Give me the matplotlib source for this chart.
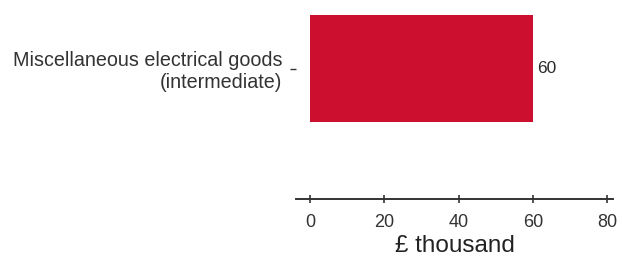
import matplotlib
matplotlib.use("Agg")
import matplotlib.pyplot as plt

categories = ["Miscellaneous electrical goods\n(intermediate)"]
values = [60]
xticks = [0, 20, 40, 60, 80]

plt.rcParams["font.family"] = ["Liberation Sans", "DejaVu Sans"]

fig = plt.figure(figsize=(6.22, 2.60), dpi=100)
# axes placed in figure fraction (spine at y=199 px from top)
ax = fig.add_axes([296 / 622, 1 - 199 / 260, (613 - 296) / 622, 194 / 260])

bars = ax.barh(range(len(categories)), values, height=0.8, color="#cc0f2e")
for i, v in enumerate(values):
    ax.text(v + 1.2, i, str(v), va="center", ha="left", fontsize=12.5, color="#2a2a2a")

ax.set_xlim(-3.77, 81.6)
# bar centre at 68.5 px, half height 53.5 px -> 133.75 px per unit
ax.set_ylim(-(199 - 68.5) / 133.75, (68.5 - 5) / 133.75)
ax.set_xticks(xticks)
ax.set_yticks(range(len(categories)))
ax.set_yticklabels(categories, fontsize=14.2, color="#2a2a2a", ha="right", multialignment="right")

for s in ["top", "right", "left"]:
    ax.spines[s].set_visible(False)
ax.spines["bottom"].set_linewidth(1.4)
ax.spines["bottom"].set_color("#333333")

ax.tick_params(axis="x", direction="inout", length=6, width=1.2, colors="#333333",
               labelsize=13, labelcolor="#333333", pad=8)
ax.tick_params(axis="y", length=4, width=1, colors="#333333", pad=6)

ax.set_xlabel("£ thousand", fontsize=17.5, color="#222222", labelpad=3)

fig.savefig("out.png", dpi=100)
